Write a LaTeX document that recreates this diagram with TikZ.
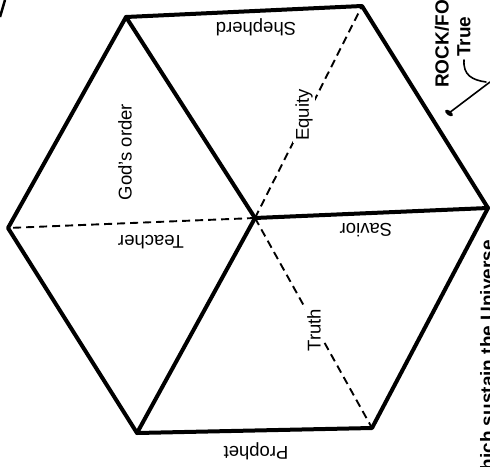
\documentclass[tikz,border=0pt]{standalone}
\usepackage{fontspec}
\setmainfont{Liberation Sans}
\usetikzlibrary{positioning}

\begin{document}
\begin{tikzpicture}[x=1pt, y=-1pt,
  rim/.style={line width=4pt, line join=round, line cap=round},
  fold/.style={line width=1.9pt, dash pattern=on 8pt off 5pt},
  lbl/.style={inner sep=0pt, font=\fontsize{18.5}{20}\selectfont},
  side/.style={inner sep=0pt, rotate=90, font=\bfseries\fontsize{19}{21}\selectfont}]
\useasboundingbox (0,0) rectangle (490,466);
\clip (0,0) rectangle (490,466);
% corners of the hexagon
\coordinate (tl) at (126,17);
\coordinate (tr) at (362,6);
\coordinate (rt) at (488,208);
\coordinate (br) at (372,428);
\coordinate (bl) at (137,433);
\coordinate (lf) at (8,228);
\coordinate (ctr) at (255,218);
% outline and solid folds
\draw[rim] (tl) -- (tr) -- (rt) -- (br) -- (bl) -- (lf) -- cycle;
\draw[rim] (ctr) -- (tl);
\draw[rim] (ctr) -- (rt);
\draw[rim] (ctr) -- (bl);
% dashed folds
\draw[fold] (ctr) -- (tr);
\draw[fold] (ctr) -- (lf);
\draw[fold] (ctr) -- (br);
% labels
\node[lbl, rotate=180] (shep) at (256,27) {Shepherd};
\node[lbl, rotate=90] (gods) at (125,152) {God's order};
\node[lbl, rotate=90, fill=white, inner sep=2pt] (equ) at (304,115) {Equity};
\node[lbl, rotate=180] (teach) at (151,242) {Teacher};
\node[lbl, rotate=180] (sav) at (366,230) {Savior};
\node[lbl, rotate=90, fill=white, inner sep=2pt] (truth) at (314,330) {Truth};
\node[lbl, rotate=180] (proph) at (256,451) {Prophet};
% margin notes
\node[side, anchor=west] (rock) at (442,88) {ROCK/FO};
\node[side, anchor=west] (true) at (464,57) {True};
\node[side, anchor=east] (univ) at (487,240) {which sustain the Universe};
\coordinate (hook) at (464,60);
\coordinate (turn) at (486,82);
\coordinate (tip) at (449,113);
\draw[line width=1.6pt, line cap=round] (hook) .. controls (463,75) and (472,80) .. (turn);
\draw[line width=1.6pt, line cap=round] (490,82) -- (tip);
\fill[rotate around={-38:(tip)}] (tip) ellipse (4.5pt and 2.3pt);
% scan mark
\coordinate (mk1) at (0,17);
\coordinate (mk2) at (5,0);
\draw[line width=2.5pt] (mk1) -- (mk2);
\end{tikzpicture}
\end{document}
